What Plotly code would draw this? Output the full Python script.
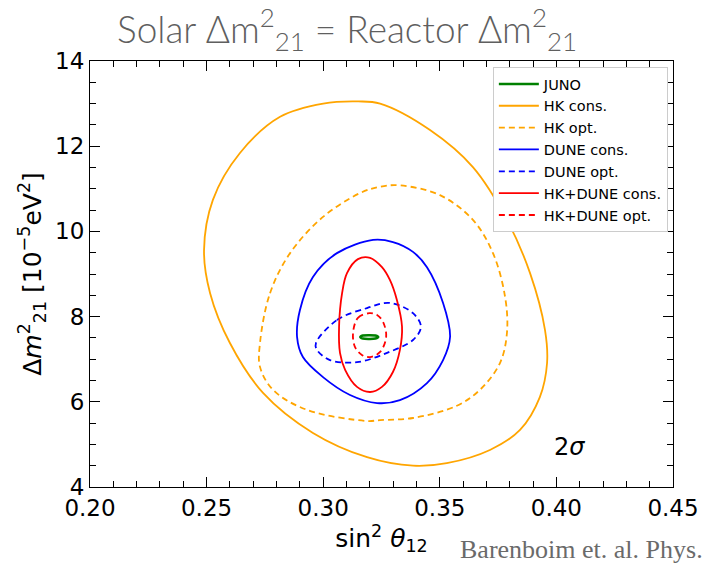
import plotly.graph_objects as go

# ---- data ----
juno_x = [0.3159, 0.3170, 0.3197, 0.3224, 0.3236, 0.3224, 0.3197, 0.3170, 0.3159]
juno_y = [7.52, 7.555, 7.565, 7.555, 7.52, 7.485, 7.475, 7.485, 7.52]

hk_cons_x = [0.2489, 0.2527, 0.2643, 0.2815, 0.3000, 0.3150, 0.3244, 0.3458, 0.3642, 0.3788,
             0.3887, 0.3951, 0.3960, 0.3929, 0.3844, 0.3715, 0.3530, 0.3385, 0.3188, 0.2956,
             0.2742, 0.2600, 0.2515, 0.2489]
hk_cons_y = [9.56, 10.74, 11.84, 12.69, 13.00, 13.05, 13.00, 12.38, 11.51, 10.27,
             9.02, 7.69, 6.91, 6.11, 5.34, 4.87, 4.56, 4.50, 4.70, 5.27,
             6.21, 7.38, 8.55, 9.56]

hk_opt_x = [0.2729, 0.2772, 0.2858, 0.2999, 0.3158, 0.3244, 0.3329, 0.3501, 0.3642, 0.3728,
            0.3780, 0.3788, 0.3758, 0.3672, 0.3570, 0.3385, 0.3244, 0.3188, 0.2931, 0.2785,
            0.2729, 0.2729]
hk_opt_y = [7.38, 8.55, 9.49, 10.34, 10.90, 11.05, 11.08, 10.85, 10.27, 9.49,
            8.46, 7.62, 6.91, 6.28, 5.90, 5.62, 5.57, 5.55, 5.81, 6.28,
            6.82, 7.38]

dune_cons_x = [0.2888, 0.2900, 0.2956, 0.3059, 0.3214, 0.3299, 0.3385, 0.3445, 0.3514, 0.3544,
               0.3514, 0.3445, 0.3329, 0.3231, 0.3115, 0.2999, 0.2913, 0.2888]
dune_cons_y = [7.52, 8.15, 8.93, 9.49, 9.80, 9.75, 9.52, 9.16, 8.32, 7.52,
               6.98, 6.44, 6.04, 5.97, 6.16, 6.58, 7.05, 7.52]

dune_opt_x = [0.2969, 0.3059, 0.3188, 0.3286, 0.3385, 0.3419, 0.3385, 0.3274, 0.3145, 0.3029,
              0.2973, 0.2969]
dune_opt_y = [7.38, 7.92, 8.20, 8.32, 8.08, 7.76, 7.45, 7.15, 6.93, 6.98,
              7.22, 7.38]

hkdune_cons_x = [0.3068, 0.3081, 0.3102, 0.3149, 0.3201, 0.3252, 0.3286, 0.3316, 0.3338, 0.3329,
                 0.3299, 0.3252, 0.3201, 0.3145, 0.3094, 0.3072, 0.3068]
hkdune_cons_y = [7.76, 8.55, 9.02, 9.35, 9.38, 9.16, 8.86, 8.39, 7.76, 7.22,
                 6.70, 6.35, 6.23, 6.35, 6.75, 7.15, 7.76]

hkdune_opt_x = [0.3128, 0.3149, 0.3197, 0.3231, 0.3257, 0.3270, 0.3244, 0.3201, 0.3166, 0.3136,
                0.3128]
hkdune_opt_y = [7.62, 7.97, 8.08, 8.04, 7.87, 7.52, 7.17, 7.05, 7.10, 7.29,
                7.62]

x_ticks = [0.20, 0.25, 0.30, 0.35, 0.40, 0.45]
x_tick_labels = ["0.20", "0.25", "0.30", "0.35", "0.40", "0.45"]
y_ticks = [4, 6, 8, 10, 12, 14]

series = [
    ("JUNO", juno_x, juno_y, "#008000", "solid", 2.5),
    ("HK cons.", hk_cons_x, hk_cons_y, "#FFA500", "solid", 1.8),
    ("HK opt.", hk_opt_x, hk_opt_y, "#FFA500", "6px,4px", 1.8),
    ("DUNE cons.", dune_cons_x, dune_cons_y, "#0000FF", "solid", 1.8),
    ("DUNE opt.", dune_opt_x, dune_opt_y, "#0000FF", "6px,4px", 1.8),
    ("HK+DUNE cons.", hkdune_cons_x, hkdune_cons_y, "#FF0000", "solid", 1.8),
    ("HK+DUNE opt.", hkdune_opt_x, hkdune_opt_y, "#FF0000", "6px,4px", 1.8),
]

fig = go.Figure()
for name, xs, ys, col, dash, w in series:
    fig.add_trace(go.Scatter(
        x=xs, y=ys, mode="lines", name=name,
        line=dict(color=col, dash=dash, width=w, shape="spline", smoothing=1.0),
    ))

axis_common = dict(
    showgrid=False, zeroline=False, showline=True, linecolor="black", linewidth=1.2,
    mirror="ticks", ticks="inside", ticklen=10, tickwidth=1.2, tickcolor="black",
    tickfont=dict(family="DejaVu Sans", size=23, color="black"), automargin=False,
)

fig.update_xaxes(
    range=[0.20, 0.45], tickvals=x_ticks, ticktext=x_tick_labels,
    minor=dict(dtick=0.01, ticks="inside", ticklen=6, tickwidth=1, tickcolor="black"),
    title=dict(text="sin<sup>2</sup> <i>θ</i><sub>12</sub>",
               font=dict(family="DejaVu Sans", size=25, color="black"), standoff=4),
    **axis_common,
)
fig.update_yaxes(
    range=[4, 14], tickvals=y_ticks,
    minor=dict(dtick=0.5, ticks="inside", ticklen=6, tickwidth=1, tickcolor="black"),
    title=dict(text="Δ<i>m</i><sup>2</sup><sub>21</sub> [10<sup>−5</sup>eV<sup>2</sup>]",
               font=dict(family="DejaVu Sans", size=25, color="black"), standoff=6),
    **axis_common,
)

W, H = 702, 563
fig.update_layout(
    width=W, height=H,
    margin=dict(l=90, r=29, t=61, b=76, autoexpand=False),
    paper_bgcolor="white", plot_bgcolor="white",
    title=dict(text="Solar Δm<sup>2</sup><sub>21</sub> = Reactor Δm<sup>2</sup><sub>21</sub>",
               x=347 / W, xanchor="center", yref="container", y=1 - 17 / H, yanchor="top",
               pad=dict(t=0),
               font=dict(family="Lato", size=37, color="#5f5f5f", weight=300)),
    legend=dict(x=0.691, y=0.986, xanchor="left", yanchor="top",
                bgcolor="white", bordercolor="#cccccc", borderwidth=1,
                itemwidth=40,
                font=dict(family="DejaVu Sans", size=14.5, color="black")),
    showlegend=True,
    annotations=[
        dict(x=0.4058, y=4.94, xref="x", yref="y", text="2<i>σ</i>", showarrow=False,
             font=dict(family="DejaVu Sans", size=24, color="black")),
        dict(x=(458 - 90) / 583, y=(487 - 549) / 426, xref="paper", yref="paper",
             text="Barenboim et. al. Phys.", showarrow=False,
             xanchor="left", yanchor="middle",
             font=dict(family="Liberation Serif", size=26, color="#6a6a6a")),
    ],
)

# remove the default page margin so the 702x563 figure fills the window exactly
fig.write_html("out.html",
               config={"displayModeBar": False},
               post_script="document.body.style.margin='0';document.body.style.overflow='hidden';")
